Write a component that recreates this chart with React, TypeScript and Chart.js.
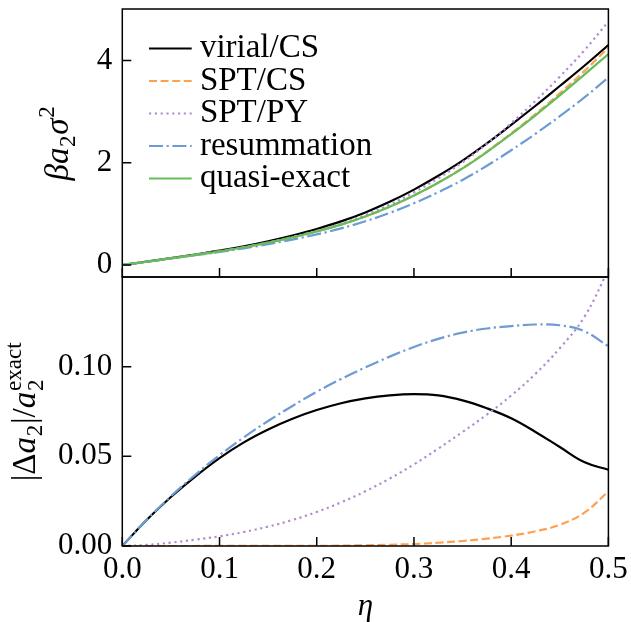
import React, { useEffect, useRef } from "react";
import { Chart, registerables } from "chart.js";

Chart.register(...registerables);

// ---------- data ----------
const ETA = [0, 0.025, 0.05, 0.075, 0.1, 0.125, 0.15, 0.175, 0.2, 0.225, 0.25, 0.275, 0.3, 0.325, 0.35, 0.375, 0.4, 0.425, 0.45, 0.475, 0.5];

// top panel: beta a2 sigma^2
const TOP_VIRIAL = [0, 0.0649, 0.1335, 0.2057, 0.2811, 0.3671, 0.4654, 0.5783, 0.7057, 0.8529, 1.0282, 1.2358, 1.4752, 1.7452, 2.0435, 2.3797, 2.7423, 3.1163, 3.5033, 3.8941, 4.3055];
const TOP_SPT_CS = [0, 0.064, 0.13, 0.198, 0.268, 0.347, 0.437, 0.5401, 0.6561, 0.7902, 0.9504, 1.1408, 1.3615, 1.6129, 1.8953, 2.2191, 2.5748, 2.954, 3.3592, 3.7888, 4.2556];
const TOP_SPT_PY = [0, 0.064, 0.1302, 0.1987, 0.2694, 0.3497, 0.4417, 0.5478, 0.6685, 0.8092, 0.979, 1.1829, 1.4219, 1.6974, 2.0102, 2.372, 2.7748, 3.2113, 3.6862, 4.1943, 4.766];
const TOP_RESUM = [0, 0.0631, 0.1264, 0.1901, 0.2544, 0.326, 0.4065, 0.4978, 0.5996, 0.7165, 0.8554, 1.0196, 1.209, 1.424, 1.6651, 1.9419, 2.2461, 2.5681, 2.9113, 3.2743, 3.6699];
const TOP_EXACT = [0, 0.064, 0.13, 0.198, 0.268, 0.347, 0.437, 0.54, 0.656, 0.79, 0.95, 1.14, 1.36, 1.61, 1.89, 2.21, 2.56, 2.93, 3.32, 3.72, 4.13];

// bottom panel: |Δa2| / a2^exact
const ERR_VIRIAL = [0, 0.0145, 0.0273, 0.0387, 0.049, 0.0578, 0.065, 0.071, 0.0758, 0.0796, 0.0823, 0.084, 0.0847, 0.084, 0.0812, 0.0768, 0.0712, 0.0636, 0.0552, 0.0468, 0.0425];
const ERR_SPT_CS = [0, 0, 0, 0, 0.0001, 0.0001, 0.0001, 0.0001, 0.0001, 0.0002, 0.0004, 0.0007, 0.0011, 0.0018, 0.0028, 0.0041, 0.0058, 0.0082, 0.0118, 0.0185, 0.0304];
const ERR_SPT_PY = [0, 0.0006, 0.0019, 0.0035, 0.0054, 0.0078, 0.0108, 0.0145, 0.019, 0.0243, 0.0305, 0.0376, 0.0455, 0.0543, 0.0636, 0.0733, 0.0839, 0.096, 0.1103, 0.1275, 0.154];
const ERR_RESUM = [0, 0.0145, 0.0277, 0.0397, 0.0506, 0.0606, 0.0697, 0.0781, 0.086, 0.0931, 0.0996, 0.1056, 0.111, 0.1155, 0.119, 0.1213, 0.1226, 0.1235, 0.1231, 0.1198, 0.1114];

const SERIES_LABELS = ["virial/CS", "SPT/CS", "SPT/PY", "resummation", "quasi-exact"];

const X_TICKS = [0, 0.1, 0.2, 0.3, 0.4, 0.5];
const X_TICK_LABELS = ["0.0", "0.1", "0.2", "0.3", "0.4", "0.5"];
const TOP_Y_TICKS = [0, 2, 4];
const TOP_Y_LABELS = ["0", "2", "4"];
const BOT_Y_TICKS = [0, 0.05, 0.1];
const BOT_Y_LABELS = ["0.00", "0.05", "0.10"];

const X_TITLE = "η";
type Seg = { t: string; it?: boolean; pos?: "b" | "sub" | "sup" | "ss"; sup?: string };
const TOP_TITLE: Seg[] = [
  { t: "β", it: true },
  { t: "a", it: true },
  { t: "2", pos: "sub" },
  { t: "σ", it: true },
  { t: "2", pos: "sup" },
];
const BOT_TITLE: Seg[] = [
  { t: "|" },
  { t: "Δ" },
  { t: "a", it: true },
  { t: "2", pos: "sub" },
  { t: "|" },
  { t: "/" },
  { t: "a", it: true },
  { t: "2", pos: "ss", sup: "exact" },
];

// ---------- styles ----------
const FAMILY = "'Liberation Serif', 'Times New Roman', serif";
const LW = 2.2;
const STYLES = [
  { color: "#000000", dash: [] as number[] },
  { color: "#ffa050", dash: [8, 3.6] },
  { color: "#b08cd2", dash: [2.2, 3.6] },
  { color: "#6e9bd2", dash: [14, 3.6, 2.2, 3.6] },
  { color: "#64be5a", dash: [] as number[] },
];

function fontStr(size: number, it?: boolean) {
  return `${it ? "italic " : ""}${size}px ${FAMILY}`;
}

function drawRich(ctx: CanvasRenderingContext2D, segs: Seg[], cx: number, cy: number, size: number) {
  const ss = size * 0.7;
  const widths = segs.map((s) => {
    if (!s.pos || s.pos === "b") {
      ctx.font = fontStr(size, s.it);
      return ctx.measureText(s.t).width;
    }
    ctx.font = fontStr(ss, s.it);
    let w = ctx.measureText(s.t).width;
    if (s.pos === "ss" && s.sup) w = Math.max(w, ctx.measureText(s.sup).width);
    return w + size * 0.04;
  });
  const total = widths.reduce((a, b) => a + b, 0);
  ctx.save();
  ctx.translate(cx, cy);
  ctx.rotate(-Math.PI / 2);
  ctx.textAlign = "left";
  ctx.textBaseline = "alphabetic";
  ctx.fillStyle = "#000";
  let x = -total / 2;
  segs.forEach((s, i) => {
    if (!s.pos || s.pos === "b") {
      ctx.font = fontStr(size, s.it);
      ctx.fillText(s.t, x, 0);
    } else {
      ctx.font = fontStr(ss, s.it);
      if (s.pos === "sub") ctx.fillText(s.t, x + size * 0.02, size * 0.22);
      else if (s.pos === "sup") ctx.fillText(s.t, x + size * 0.02, -size * 0.42);
      else {
        ctx.fillText(s.t, x + size * 0.02, size * 0.25);
        if (s.sup) ctx.fillText(s.sup, x + size * 0.02, -size * 0.42);
      }
    }
    x += widths[i];
  });
  ctx.restore();
}

function frameTicksPlugin(yTicks: number[], title: Seg[], titleX: number, drawXTitle: boolean, legend: boolean) {
  return {
    id: "frameTicks",
    afterDraw(chart: any) {
      const ctx: CanvasRenderingContext2D = chart.ctx;
      const a = chart.chartArea;
      const xs = chart.scales.x;
      const ys = chart.scales.y;
      ctx.save();
      ctx.strokeStyle = "#000";
      ctx.lineWidth = 1.5;
      ctx.setLineDash([]);
      ctx.strokeRect(a.left, a.top, a.right - a.left, a.bottom - a.top);
      ctx.beginPath();
      X_TICKS.forEach((v) => {
        const px = xs.getPixelForValue(v);
        ctx.moveTo(px, a.bottom);
        ctx.lineTo(px, a.bottom - 9);
      });
      yTicks.forEach((v) => {
        const py = ys.getPixelForValue(v);
        ctx.moveTo(a.left, py);
        ctx.lineTo(a.left + 9, py);
      });
      ctx.stroke();

      drawRich(ctx, title, titleX, (a.top + a.bottom) / 2, 33);

      if (drawXTitle) {
        ctx.font = fontStr(31, true);
        ctx.fillStyle = "#000";
        ctx.textAlign = "center";
        ctx.textBaseline = "alphabetic";
        ctx.fillText(X_TITLE, (a.left + a.right) / 2, a.bottom + 69);
      }

      if (legend) {
        SERIES_LABELS.forEach((lab, i) => {
          const y = a.top + 39.5 + i * 32.5;
          ctx.beginPath();
          ctx.strokeStyle = STYLES[i].color;
          ctx.lineWidth = LW;
          ctx.setLineDash(STYLES[i].dash);
          ctx.moveTo(a.left + 26.7, y);
          ctx.lineTo(a.left + 69.4, y);
          ctx.stroke();
          ctx.setLineDash([]);
          ctx.font = fontStr(33);
          ctx.fillStyle = "#000";
          ctx.textAlign = "left";
          ctx.textBaseline = "middle";
          ctx.fillText(lab, a.left + 77.6, y);
        });
      }
      ctx.restore();
    },
  };
}

function mk(values: number[], i: number) {
  return {
    label: SERIES_LABELS[i],
    data: ETA.map((x, k) => ({ x, y: values[k] })),
    borderColor: STYLES[i].color,
    borderWidth: LW,
    borderDash: STYLES[i].dash,
    pointRadius: 0,
    fill: false,
    tension: 0.4,
    order: 5 - i,
  };
}

function yAxis(min: number, max: number, ticks: number[], labels: string[]) {
  return {
    type: "linear" as const,
    min,
    max,
    grid: { display: false, drawTicks: false },
    border: { display: false },
    afterBuildTicks: (s: any) => {
      s.ticks = ticks.map((v) => ({ value: v }));
    },
    afterFit: (s: any) => {
      s.width = 122.3;
      s.paddingTop = 0;
      s.paddingBottom = 0;
    },
    ticks: {
      padding: 10,
      color: "#000",
      font: { family: FAMILY, size: 31, lineHeight: 1 },
      callback: (_v: any, idx: number) => labels[idx],
    },
  };
}

export default function App() {
  const topRef = useRef<HTMLCanvasElement>(null);
  const botRef = useRef<HTMLCanvasElement>(null);

  useEffect(() => {
    const top = new Chart(topRef.current!, {
      type: "line",
      data: {
        datasets: [
          mk(TOP_VIRIAL, 0),
          mk(TOP_SPT_CS, 1),
          mk(TOP_SPT_PY, 2),
          mk(TOP_RESUM, 3),
          mk(TOP_EXACT, 4),
        ],
      },
      options: {
        responsive: false,
        maintainAspectRatio: false,
        animation: false,
        layout: { padding: { left: 0, right: 22.6, top: 9, bottom: 13 } },
        plugins: { legend: { display: false }, tooltip: { enabled: false } },
        scales: {
          x: { type: "linear", min: 0, max: 0.5, display: false },
          y: yAxis(-0.235, 5.01, TOP_Y_TICKS, TOP_Y_LABELS),
        },
      },
      plugins: [frameTicksPlugin(TOP_Y_TICKS, TOP_TITLE, 68, false, true)],
    });

    const bot = new Chart(botRef.current!, {
      type: "line",
      data: {
        datasets: [mk(ERR_VIRIAL, 0), mk(ERR_SPT_CS, 1), mk(ERR_SPT_PY, 2), mk(ERR_RESUM, 3)],
      },
      options: {
        responsive: false,
        maintainAspectRatio: false,
        animation: false,
        layout: { padding: { left: 0, right: 22.6, top: 15, bottom: 0 } },
        plugins: { legend: { display: false }, tooltip: { enabled: false } },
        scales: {
          x: {
            type: "linear",
            min: 0,
            max: 0.5,
            grid: { display: false, drawTicks: false },
            border: { display: false },
            afterBuildTicks: (s: any) => {
              s.ticks = X_TICKS.map((v) => ({ value: v }));
            },
            afterFit: (s: any) => {
              s.height = 76;
              s.paddingLeft = 0;
              s.paddingRight = 0;
            },
            ticks: {
              padding: 8,
              maxRotation: 0,
              autoSkip: false,
              color: "#000",
              font: { family: FAMILY, size: 31, lineHeight: 1 },
              callback: (_v: any, idx: number) => X_TICK_LABELS[idx],
            },
          },
          y: yAxis(0, 0.15, BOT_Y_TICKS, BOT_Y_LABELS),
        },
      },
      plugins: [frameTicksPlugin(BOT_Y_TICKS, BOT_TITLE, 35, true, false)],
    });

    return () => {
      top.destroy();
      bot.destroy();
    };
  }, []);

  return (
    <div style={{ position: "absolute", left: 0, top: 0, width: 631, height: 622, overflow: "hidden", background: "#fff" }}>
      <canvas ref={topRef} width={631} height={290} style={{ position: "absolute", left: 0, top: 0, width: 631, height: 290 }} />
      <canvas ref={botRef} width={631} height={360} style={{ position: "absolute", left: 0, top: 262, width: 631, height: 360 }} />
    </div>
  );
}
